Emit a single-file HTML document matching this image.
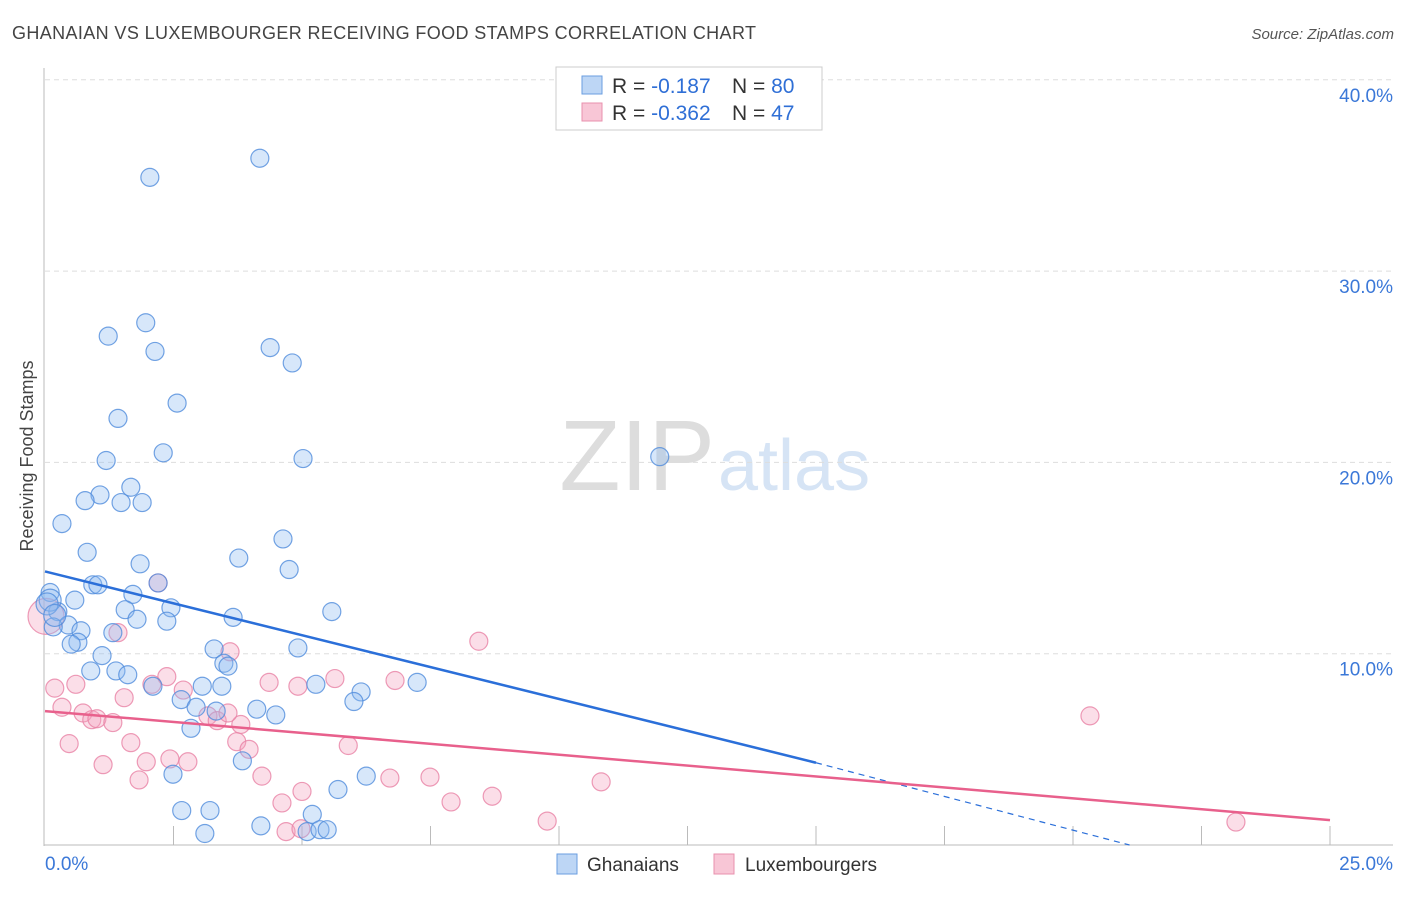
<!DOCTYPE html>
<html><head><meta charset="utf-8"><style>
body{margin:0;background:#fff;font-family:"Liberation Sans",sans-serif;}
svg text{font-family:"Liberation Sans",sans-serif;}
</style></head><body>
<svg id="chart" width="1406" height="892">
<text x="12" y="39" font-size="18" fill="#444" textLength="744">GHANAIAN VS LUXEMBOURGER RECEIVING FOOD STAMPS CORRELATION CHART</text>
<text x="1394" y="39" font-size="15" fill="#555" font-style="italic" text-anchor="end">Source: ZipAtlas.com</text>
<text x="33" y="456" font-size="18" fill="#444" text-anchor="middle" transform="rotate(-90 33 456)">Receiving Food Stamps</text>
<text x="715" y="490" font-size="100" fill="#ddd" text-anchor="end" font-family="Liberation Serif">ZIP</text>
<text x="718" y="490" font-size="72" fill="#d6e4f5">atlas</text>
<g id="grid"></g><g id="pts"></g><g id="lines"></g>
<g>
<rect x="556" y="67" width="266" height="63" fill="#fff" stroke="#ccc"/>
<rect x="582" y="76" width="20" height="18" fill="#bdd6f5" stroke="#6a9ee0"/>
<rect x="582" y="103" width="20" height="18" fill="#f8c6d6" stroke="#e890ae"/>
<text x="612" y="93" font-size="21" fill="#333">R = <tspan fill="#2f6fd6">-0.187</tspan></text>
<text x="732" y="93" font-size="21" fill="#333">N = <tspan fill="#2f6fd6">80</tspan></text>
<text x="612" y="120" font-size="21" fill="#333">R = <tspan fill="#2f6fd6">-0.362</tspan></text>
<text x="732" y="120" font-size="21" fill="#333">N = <tspan fill="#2f6fd6">47</tspan></text>
</g>
<g>
<rect x="557" y="854" width="20" height="20" fill="#bdd6f5" stroke="#6a9ee0"/>
<text x="587" y="871" font-size="19" fill="#333">Ghanaians</text>
<rect x="714" y="854" width="20" height="20" fill="#f8c6d6" stroke="#e890ae"/>
<text x="745" y="871" font-size="19" fill="#333">Luxembourgers</text>
</g>
</svg>
<script>
const yTicks=[10,20,30,40];
const xTickLabels=["0.0%","25.0%"];
const blueX=[4.18,2.04,1.96,1.23,2.14,4.38,4.81,2.57,1.42,2.30,1.19,5.02,11.96,1.07,0.78,1.67,1.48,1.89,0.33,0.82,3.77,4.63,4.75,1.85,0.93,1.03,2.20,0.10,0.58,1.71,1.56,2.45,3.66,5.58,0.25,0.45,0.16,1.79,2.37,1.32,0.70,0.64,0.51,3.29,4.92,1.11,3.48,3.56,0.89,1.38,1.61,2.10,3.06,3.44,5.27,6.15,6.01,7.24,2.65,2.94,3.33,4.12,4.49,2.84,3.84,2.49,5.70,6.25,2.66,3.21,5.20,3.11,4.20,5.10,5.35,5.49,0.10,0.04,0.19];
const blueY=[35.9,34.9,27.3,26.6,25.8,26.0,25.2,23.1,22.3,20.5,20.1,20.2,20.3,18.3,18.0,18.7,17.9,17.9,16.8,15.3,15.0,16.0,14.4,14.7,13.6,13.6,13.7,13.2,12.8,13.1,12.3,12.4,11.9,12.2,12.2,11.5,11.4,11.8,11.7,11.1,11.2,10.6,10.5,10.25,10.3,9.9,9.5,9.35,9.1,9.1,8.9,8.3,8.3,8.3,8.4,8.0,7.5,8.5,7.6,7.2,7.0,7.1,6.8,6.1,4.4,3.7,2.9,3.6,1.8,1.8,1.6,0.6,1.0,0.7,0.8,0.8,12.8,12.6,12.0];
const pinkX=[0.02,1.42,2.20,8.44,0.19,0.60,3.60,2.37,2.69,4.36,4.92,5.64,6.81,2.08,1.54,0.33,0.74,0.91,1.01,1.32,3.17,3.35,3.81,20.33,0.47,1.67,3.73,5.90,1.13,1.97,2.43,2.78,3.97,4.22,1.83,6.71,7.49,10.82,5.00,4.61,7.90,8.70,9.77,4.69,4.98,23.17,3.56];
const pinkY=[11.95,11.1,13.7,10.65,8.2,8.4,10.1,8.8,8.1,8.5,8.3,8.7,8.6,8.4,7.7,7.2,6.9,6.55,6.6,6.4,6.75,6.5,6.3,6.75,5.3,5.35,5.4,5.2,4.2,4.35,4.5,4.35,5.0,3.6,3.4,3.5,3.55,3.3,2.8,2.2,2.25,2.55,1.25,0.7,0.85,1.2,6.9];
const blueTrend=[[0,14.3],[15,4.3]];
const blueDash=[[15,4.3],[21.1,0]];
const pinkTrend=[[0,7.0],[25,1.3]];
const X0=45,X1=1330,Y0=845,PY=19.13;
const sx=v=>X0+(X1-X0)*v/25, sy=v=>Y0-v*PY;
const NS="http://www.w3.org/2000/svg";
const mk=(t,a,p)=>{const e=document.createElementNS(NS,t);for(const k in a)e.setAttribute(k,a[k]);p.appendChild(e);return e;};
const grid=document.getElementById('grid');
yTicks.forEach(t=>{
 const l=mk('line',{x1:45,x2:1393,y1:sy(t),y2:sy(t),stroke:'#ddd','stroke-dasharray':'5,4'},grid);
 
 
 const tx=mk('text',{x:1393,y:sy(t)+22,'font-size':19,fill:'#3b78d8','text-anchor':'end'},grid);
 tx.textContent=t.toFixed(1)+'%';
 
 
});
const ax=mk('line',{x1:44,x2:44,y1:68,y2:846,stroke:'#bbb'},grid);


const bx=mk('line',{x1:44,x2:1393,y1:845,y2:845,stroke:'#bbb'},grid);


for(let i=1;i<=10;i++){const t=mk('line',{x1:sx(i*2.5),x2:sx(i*2.5),y1:826,y2:845,stroke:'#bbb'},grid);
 
 }
const xl0=mk('text',{x:45,y:870,'font-size':19,fill:'#3b78d8'},grid);xl0.textContent=xTickLabels[0];


const xl1=mk('text',{x:1393,y:870,'font-size':19,fill:'#3b78d8','text-anchor':'end'},grid);xl1.textContent=xTickLabels[1];


const pts=document.getElementById('pts');
pinkX.forEach((v,i)=>{const c=mk('circle',{cx:sx(v),cy:sy(pinkY[i]),r:i==0?18:9,fill:'rgba(244,160,188,0.35)',stroke:'rgba(232,130,165,0.8)','stroke-width':1.2},pts);
 
 });
blueX.forEach((v,i)=>{const c=mk('circle',{cx:sx(v),cy:sy(blueY[i]),r:i>=76?11:9,fill:'rgba(140,185,240,0.35)',stroke:'rgba(80,140,220,0.8)','stroke-width':1.2},pts);
 
 });
const lines=document.getElementById('lines');
const L=(p,col,dash,name)=>{const l=mk('line',{x1:sx(p[0][0]),y1:sy(p[0][1]),x2:sx(p[1][0]),y2:sy(p[1][1]),stroke:col,'stroke-width':dash?1.2:2.5},lines);
 if(dash)l.setAttribute('stroke-dasharray','6,5');
 
 };
L(blueTrend,'#2b6fd9',false,'ghanaian-trend-line');
L(blueDash,'#2b6fd9',true,'ghanaian-trend-extension');
L(pinkTrend,'#e8608c',false,'luxembourger-trend-line');
</script>
</body></html>
